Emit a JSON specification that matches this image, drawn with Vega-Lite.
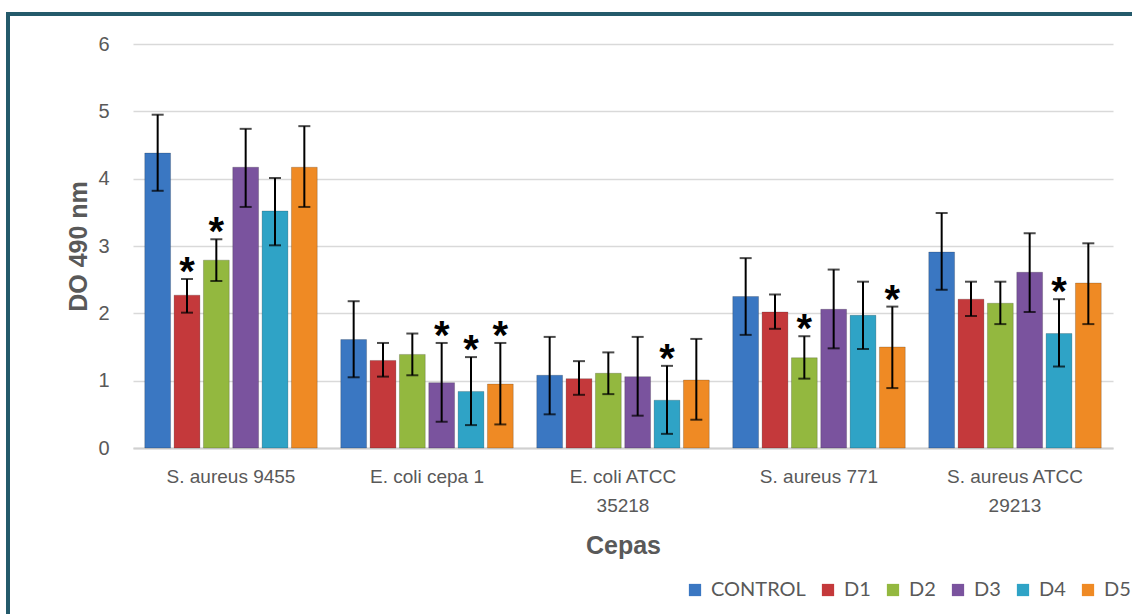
{
  "$schema": "https://vega.github.io/schema/vega-lite/v6.json",
  "autosize": {"type": "none"},
  "width": 1144,
  "height": 620,
  "padding": {"left": 8, "top": 14, "right": -20, "bottom": -20},
  "background": "white",
  "view": {"stroke": "#245a6b", "strokeWidth": 4},
  "config": {
    "font": "Liberation Sans"
  },
  "data": {
    "values": [
      {"cepa": "S. aureus 9455", "grupo": "CONTROL", "valor": 4.38, "lo": 3.82, "hi": 4.95, "sig": false},
      {"cepa": "S. aureus 9455", "grupo": "D1", "valor": 2.27, "lo": 2.01, "hi": 2.51, "sig": true},
      {"cepa": "S. aureus 9455", "grupo": "D2", "valor": 2.79, "lo": 2.48, "hi": 3.10, "sig": true},
      {"cepa": "S. aureus 9455", "grupo": "D3", "valor": 4.17, "lo": 3.58, "hi": 4.74, "sig": false},
      {"cepa": "S. aureus 9455", "grupo": "D4", "valor": 3.52, "lo": 3.01, "hi": 4.01, "sig": false},
      {"cepa": "S. aureus 9455", "grupo": "D5", "valor": 4.17, "lo": 3.58, "hi": 4.78, "sig": false},
      {"cepa": "E. coli cepa 1", "grupo": "CONTROL", "valor": 1.61, "lo": 1.05, "hi": 2.18, "sig": false},
      {"cepa": "E. coli cepa 1", "grupo": "D1", "valor": 1.30, "lo": 1.06, "hi": 1.56, "sig": false},
      {"cepa": "E. coli cepa 1", "grupo": "D2", "valor": 1.39, "lo": 1.08, "hi": 1.70, "sig": false},
      {"cepa": "E. coli cepa 1", "grupo": "D3", "valor": 0.97, "lo": 0.39, "hi": 1.56, "sig": true},
      {"cepa": "E. coli cepa 1", "grupo": "D4", "valor": 0.84, "lo": 0.34, "hi": 1.35, "sig": true},
      {"cepa": "E. coli cepa 1", "grupo": "D5", "valor": 0.95, "lo": 0.35, "hi": 1.56, "sig": true},
      {"cepa": "E. coli ATCC|35218", "grupo": "CONTROL", "valor": 1.08, "lo": 0.50, "hi": 1.65, "sig": false},
      {"cepa": "E. coli ATCC|35218", "grupo": "D1", "valor": 1.03, "lo": 0.79, "hi": 1.29, "sig": false},
      {"cepa": "E. coli ATCC|35218", "grupo": "D2", "valor": 1.11, "lo": 0.80, "hi": 1.42, "sig": false},
      {"cepa": "E. coli ATCC|35218", "grupo": "D3", "valor": 1.06, "lo": 0.48, "hi": 1.65, "sig": false},
      {"cepa": "E. coli ATCC|35218", "grupo": "D4", "valor": 0.71, "lo": 0.21, "hi": 1.22, "sig": true},
      {"cepa": "E. coli ATCC|35218", "grupo": "D5", "valor": 1.01, "lo": 0.42, "hi": 1.62, "sig": false},
      {"cepa": "S. aureus 771", "grupo": "CONTROL", "valor": 2.25, "lo": 1.68, "hi": 2.82, "sig": false},
      {"cepa": "S. aureus 771", "grupo": "D1", "valor": 2.02, "lo": 1.77, "hi": 2.28, "sig": false},
      {"cepa": "S. aureus 771", "grupo": "D2", "valor": 1.34, "lo": 1.03, "hi": 1.66, "sig": true},
      {"cepa": "S. aureus 771", "grupo": "D3", "valor": 2.06, "lo": 1.48, "hi": 2.65, "sig": false},
      {"cepa": "S. aureus 771", "grupo": "D4", "valor": 1.97, "lo": 1.47, "hi": 2.47, "sig": false},
      {"cepa": "S. aureus 771", "grupo": "D5", "valor": 1.50, "lo": 0.89, "hi": 2.10, "sig": true},
      {"cepa": "S. aureus ATCC|29213", "grupo": "CONTROL", "valor": 2.91, "lo": 2.35, "hi": 3.49, "sig": false},
      {"cepa": "S. aureus ATCC|29213", "grupo": "D1", "valor": 2.21, "lo": 1.96, "hi": 2.47, "sig": false},
      {"cepa": "S. aureus ATCC|29213", "grupo": "D2", "valor": 2.15, "lo": 1.84, "hi": 2.47, "sig": false},
      {"cepa": "S. aureus ATCC|29213", "grupo": "D3", "valor": 2.61, "lo": 2.02, "hi": 3.19, "sig": false},
      {"cepa": "S. aureus ATCC|29213", "grupo": "D4", "valor": 1.70, "lo": 1.21, "hi": 2.21, "sig": true},
      {"cepa": "S. aureus ATCC|29213", "grupo": "D5", "valor": 2.45, "lo": 1.84, "hi": 3.04, "sig": false}
    ]
  },
  "encoding": {
    "x": {
      "field": "cepa",
      "type": "nominal",
      "sort": null,
      "scale": {"range": [125, 1105], "paddingInner": 0.12, "paddingOuter": 0.06},
      "axis": {
        "orient": "bottom",
        "offset": -186,
        "title": "Cepas",
        "titleFontSize": 25,
        "titleFontWeight": "bold",
        "titleColor": "#595959",
        "titlePadding": 18,
        "labelExpr": "split(datum.label, '|')",
        "labelAngle": 0,
        "labelFontSize": 19,
        "labelColor": "#595959",
        "labelPadding": 19,
        "labelLineHeight": 29,
        "labelBaseline": "top",
        "ticks": false,
        "domain": true,
        "domainColor": "#d0d0d0",
        "domainWidth": 2,
        "grid": false
      }
    },
    "xOffset": {
      "field": "grupo",
      "type": "nominal",
      "sort": ["CONTROL", "D1", "D2", "D3", "D4", "D5"],
      "scale": {"paddingInner": 0.12, "paddingOuter": 0}
    }
  },
  "layer": [
    {
      "mark": {"type": "bar", "stroke": "#00000030", "strokeWidth": 1},
      "encoding": {
        "y": {
          "field": "valor",
          "type": "quantitative",
          "scale": {"domain": [0, 6], "range": [434, 30], "nice": false},
          "axis": {
            "orient": "left",
            "offset": -125,
            "values": [0, 1, 2, 3, 4, 5, 6],
            "format": "d",
            "title": "DO 490 nm",
            "titleFontSize": 25,
            "titleFontWeight": "bold",
            "titleColor": "#595959",
            "titlePadding": 6,
            "labelFontSize": 20,
            "labelColor": "#595959",
            "labelPadding": 24,
            "ticks": false,
            "domain": false,
            "grid": true,
            "gridColor": "#d9d9d9",
            "gridWidth": 1.5
          }
        },
        "color": {
          "field": "grupo",
          "type": "nominal",
          "sort": ["CONTROL", "D1", "D2", "D3", "D4", "D5"],
          "scale": {
            "domain": ["CONTROL", "D1", "D2", "D3", "D4", "D5"],
            "range": ["#3a77c2", "#c4393b", "#93b83f", "#7a539e", "#2fa3c6", "#ef8a24"]
          },
          "legend": {
            "orient": "none",
            "legendX": 677,
            "legendY": 566,
            "direction": "horizontal",
            "title": null,
            "symbolType": "square",
            "symbolSize": 150,
            "symbolStrokeWidth": 0,
            "labelFont": "Lato",
            "labelFontSize": 20,
            "labelColor": "#595959",
            "labelOffset": 6,
            "columnPadding": 12
          }
        }
      }
    },
    {
      "mark": {"type": "rule", "color": "black", "strokeWidth": 2},
      "encoding": {
        "y": {"field": "lo", "type": "quantitative"},
        "y2": {"field": "hi"}
      }
    },
    {
      "mark": {"type": "tick", "color": "black", "size": 12, "thickness": 2},
      "encoding": {
        "y": {"field": "lo", "type": "quantitative"}
      }
    },
    {
      "mark": {"type": "tick", "color": "black", "size": 12, "thickness": 2},
      "encoding": {
        "y": {"field": "hi", "type": "quantitative"}
      }
    },
    {
      "transform": [{"filter": "datum.sig"}],
      "mark": {"type": "text", "text": "*", "fontSize": 40, "fontWeight": "bold", "color": "black", "baseline": "alphabetic", "dy": 6},
      "encoding": {
        "y": {"field": "hi", "type": "quantitative"}
      }
    }
  ]
}
